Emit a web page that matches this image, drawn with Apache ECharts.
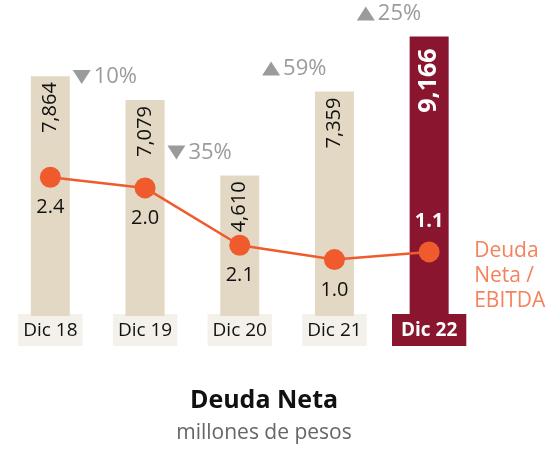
<!DOCTYPE html>
<html><head><meta charset="utf-8">
<script src="https://cdn.jsdelivr.net/npm/echarts@6/dist/echarts.min.js"></script>
<style>html,body{margin:0;padding:0;background:#fff}#c{width:546px;height:449px}</style>
</head><body><div id="c"></div>
<script>
// ---- data ----
const categories = ['Dic 18', 'Dic 19', 'Dic 20', 'Dic 21', 'Dic 22'];
const debtValues = [7864, 7079, 4610, 7359, 9166];          // Deuda Neta, millones de pesos
const ratioLabels = ['2.4', '2.0', '2.1', '1.0', '1.1'];     // Deuda Neta / EBITDA (printed)
const ratioLevels = [4.55, 4.2, 2.32, 1.85, 2.1];            // line heights as drawn (hidden 0–10 scale)
const changeLabels = ['10%', '35%', '59%', '25%'];
const changeDirections = ['down', 'down', 'up', 'up'];
const seriesName = 'Deuda Neta / EBITDA';
const titleText = 'Deuda Neta';
const subtitleText = 'millones de pesos';

// ---- styling ----
const FONT = "'Open Sans', sans-serif";
const BEIGE = '#e3d8c3', RED = '#89152f', ORANGE = '#ef5b2d', GRAY = '#808285', SALMON = '#f4825c';
const last = categories.length - 1;

const chart = echarts.init(document.getElementById('c'), null, {renderer: 'canvas'});
const option = {
  animation: false,
  textStyle: {fontFamily: FONT},
  title: [
    {text: titleText, left: 259, top: 383, textAlign: 'center',
     textStyle: {fontFamily: FONT, fontSize: 25, fontWeight: 'bold', color: '#111'}},
    {text: subtitleText, left: 259, top: 418, textAlign: 'center',
     textStyle: {fontFamily: FONT, fontSize: 21, fontWeight: 'normal', color: '#666'}}
  ],
  grid: {left: 3, right: 69.5, top: 11, bottom: 133, containLabel: false},
  xAxis: [
    {type: 'category', data: categories,
     axisLine: {show: false}, axisTick: {show: false}, splitLine: {show: false},
     axisLabel: {margin: 4, interval: 0,
       formatter: (v, i) => i === last ? '{hl|' + v + '}' : '{n|' + v + '}',
       rich: {
         n: {fontFamily: FONT, fontSize: 19, color: '#111', backgroundColor: '#f4f1ea',
             padding: [7, 5, 6, 5], lineHeight: 20},
         hl: {fontFamily: FONT, fontSize: 19, fontWeight: 'bold', color: '#fff', backgroundColor: RED,
              padding: [7, 9, 6, 9], lineHeight: 20}
       }}},
    {type: 'value', min: -0.5, max: categories.length - 0.5, show: false}
  ],
  yAxis: [
    {type: 'value', min: 0, max: 10000, show: false},
    {type: 'value', min: 0, max: 10, show: false}
  ],
  series: [
    {type: 'bar', barWidth: 39, z: 1,
     data: debtValues.map((v, i) => ({
       value: v,
       itemStyle: {color: i === last ? RED : BEIGE},
       label: i === last ? {color: '#fff', fontWeight: 'bold', fontSize: 25, distance: 12} : {}
     })),
     label: {show: true, position: 'insideTop', rotate: 90, align: 'right', verticalAlign: 'middle',
             distance: 6, fontSize: 20, color: '#111', fontFamily: FONT,
             formatter: p => Number(p.value).toLocaleString('en-US')}},
    {type: 'line', name: seriesName, yAxisIndex: 1, z: 3,
     symbol: 'circle', symbolSize: 21,
     lineStyle: {color: ORANGE, width: 2.5}, itemStyle: {color: ORANGE},
     data: ratioLevels.map((v, i) => ({
       value: v,
       label: i === last ? {position: 'top', color: '#fff', fontWeight: 'bold'} : {}
     })),
     label: {show: true, position: 'bottom', distance: 10, fontSize: 20, color: '#111', fontFamily: FONT,
             formatter: p => ratioLabels[p.dataIndex]},
     endLabel: {show: true, formatter: seriesName.replace(' ', '\n').replace(' / ', ' /\n'),
                color: SALMON, fontSize: 21, lineHeight: 25, fontFamily: FONT,
                align: 'left', verticalAlign: 'top', distance: 45, offset: [0, -13]}},
    {type: 'scatter', xAxisIndex: 1, yAxisIndex: 0, z: 2, silent: true,
     symbol: 'triangle', symbolSize: [18, 14], symbolOffset: [-16, -23],
     itemStyle: {color: GRAY},
     data: changeLabels.map((t, i) => ({
       value: [i + 0.5, debtValues[i + 1]],
       symbolRotate: changeDirections[i] === 'down' ? 180 : 0
     })),
     label: {show: true, position: 'right', distance: 3, color: GRAY, fontSize: 22, fontFamily: FONT,
             formatter: p => changeLabels[p.dataIndex]}}
  ]
};
chart.setOption(option);
</script>
</body></html>
